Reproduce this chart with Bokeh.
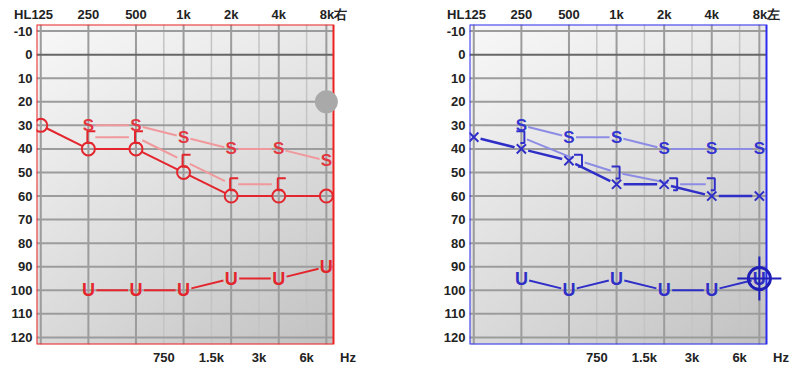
import numpy as np
from bokeh.plotting import figure
from bokeh.models import Range1d, FixedTicker, LinearAxis
from bokeh.layouts import row
from bokeh.embed import file_html
from bokeh.resources import INLINE
from bokeh.core.properties import value

# ---------------- data ----------------
oct_freqs = [125, 250, 500, 1000, 2000, 4000, 8000]
top_labels = ["125", "250", "500", "1k", "2k", "4k", "8k"]
half_freqs = [750, 1500, 3000, 6000]
half_labels = ["750", "1.5k", "3k", "6k"]
db_ticks = list(range(-10, 121, 10))
db_labels = [str(d) for d in db_ticks]
hl_text = "HL"
unit_text = "Hz"

# right ear (red)
r_air_f = [125, 250, 500, 1000, 2000, 4000, 8000]
r_air = [30, 40, 40, 50, 60, 60, 60]
r_bone_f = [250, 500, 1000, 2000, 4000]
r_bone = [35, 35, 45, 55, 55]
r_s_f = [250, 500, 1000, 2000, 4000, 8000]
r_s = [30, 30, 35, 40, 40, 45]
r_u_f = [250, 500, 1000, 2000, 4000, 8000]
r_u = [100, 100, 100, 95, 95, 90]
r_dot_f = [8000]
r_dot = [20]

# left ear (blue)
l_air_f = [125, 250, 500, 1000, 2000, 4000, 8000]
l_air = [35, 40, 45, 55, 55, 60, 60]
l_bone_f = [250, 500, 1000, 2000, 4000]
l_bone = [35, 45, 50, 55, 55]
l_s_f = [250, 500, 1000, 2000, 4000, 8000]
l_s = [30, 35, 35, 40, 40, 40]
l_u_f = [250, 500, 1000, 2000, 4000, 8000]
l_u = [95, 100, 95, 100, 100, 95]
l_mark_f = [8000]
l_mark = [95]

# ---------------- geometry ----------------
X0, X1 = -0.09, 6.15          # chart box (octaves above 125 Hz)
YT, YB = -12.8, 123.0         # chart box (dB HL, downward)
FW, FH = 297, 322             # chart box in px
PX = FW / (X1 - X0)
PY = FH / (YB - YT)
EXTRA = 22                    # white strip right of the box, so marks can overhang
X1E = X1 + EXTRA / PX
FONT = "Liberation Sans"
BL, BT, BB = 36, 24, 21
FIG_H = BT + FH + BB
NB = "\u00a0"


def octv(f):
    return np.log2(np.asarray(f, dtype=float) / 125.0)


def gapped(xs, ys, g0, g1):
    xs = np.asarray(xs, float)
    ys = np.asarray(ys, float)
    dx = (xs[1:] - xs[:-1]) * PX
    dy = (ys[1:] - ys[:-1]) * PY
    L = np.hypot(dx, dy)
    ux, uy = dx / L, dy / L
    return dict(x0=xs[:-1] + ux * g0 / PX, y0=ys[:-1] + uy * g0 / PY,
                x1=xs[1:] - ux * g1 / PX, y1=ys[1:] - uy * g1 / PY)


def bracket_paths(xs, ys, side):
    xx, yy = [], []
    for x, y in zip(xs, ys):
        px = [7, -1, -1, 4] if side == "L" else [-5, 3, 3, -1]
        py = [-6, -6, 6, 6]
        xx.append([x + a / PX for a in px])
        yy.append([y + b / PY for b in py])
    return xx, yy


def base_fig(width, border_right, color, side_text):
    p = figure(width=width, height=FIG_H, x_range=Range1d(X0, X1E),
               y_range=Range1d(YB, YT), toolbar_location=None,
               output_backend="svg", x_axis_location="above",
               min_border_left=BL, min_border_right=border_right,
               min_border_top=BT, min_border_bottom=BB)
    p.background_fill_color = "white"
    p.border_fill_color = "white"
    p.outline_line_color = None
    p.grid.visible = False

    # gradient background of the chart box
    n = 160
    u = np.linspace(0, 1, n)
    U, V = np.meshgrid(u, u)
    g = (248 - 30 * V - 14 * U - 10 * U * V).astype(np.uint32)
    img = (255 << 24) | (g << 16) | (g << 8) | g
    p.image_rgba(image=[img.astype(np.uint32)], x=X0, y=YT, dw=X1 - X0,
                 dh=YB - YT, level="image")

    # grid lines inside the box
    hx = octv(half_freqs)
    p.segment(x0=hx, x1=hx, y0=[YT] * len(hx), y1=[YB] * len(hx),
              line_color="#c4c4c4", line_width=1.5, level="underlay")
    ox = octv(oct_freqs)
    p.segment(x0=ox, x1=ox, y0=[YT] * len(ox), y1=[YB] * len(ox),
              line_color="#9c9c9c", line_width=2, level="underlay")
    dy = [d for d in db_ticks if d != 0]
    p.segment(x0=[X0] * len(dy), x1=[X1] * len(dy), y0=dy, y1=dy,
              line_color="#9c9c9c", line_width=2, level="underlay")
    p.segment(x0=[X0], x1=[X1], y0=[0], y1=[0],
              line_color="#666666", line_width=2, level="underlay")
    # chart box border
    p.quad(left=[X0], right=[X1], top=[YT], bottom=[YB], fill_alpha=0,
           line_color=color, line_width=2, level="underlay")

    # axes
    def style(ax):
        ax.axis_line_color = None
        ax.major_tick_line_color = None
        ax.minor_tick_line_color = None
        ax.major_tick_out = 0
        ax.major_tick_in = 0
        ax.minor_tick_out = 0
        ax.minor_tick_in = 0
        ax.axis_label_standoff = 0
        ax.major_label_text_font = FONT
        ax.major_label_text_font_style = "bold"
        ax.major_label_text_font_size = "13px"
        ax.major_label_text_color = "#222222"

    tl = list(top_labels)
    tl[0] = hl_text + tl[0] + NB * 4
    tl[-1] = NB * 4 + tl[-1] + side_text
    top = p.xaxis[0]
    top.ticker = FixedTicker(ticks=list(octv(oct_freqs)))
    top.major_label_overrides = {float(k): v for k, v in zip(octv(oct_freqs), tl)}
    top.major_label_standoff = 3
    style(top)

    bt = list(octv(half_freqs)) + [float(octv(oct_freqs[-1:])[0])]
    bl = list(half_labels) + [NB * 12 + unit_text]
    bot = LinearAxis(ticker=FixedTicker(ticks=bt))
    bot.major_label_overrides = {float(k): v for k, v in zip(bt, bl)}
    bot.major_label_standoff = 5
    style(bot)
    p.add_layout(bot, "below")

    ya = p.yaxis[0]
    ya.ticker = FixedTicker(ticks=db_ticks)
    ya.major_label_overrides = {d: s for d, s in zip(db_ticks, db_labels)}
    ya.major_label_standoff = 4
    style(ya)
    return p


def txt(p, xs, ys, s, color, size, bold=True):
    p.text(x=list(xs), y=list(ys), text=[s] * len(xs), text_color=color,
           text_font=value(FONT), text_font_size=size,
           text_font_style="bold" if bold else "normal",
           text_align="center", text_baseline="middle")


# ---------------- right ear (red) ----------------
RED = "#e3262d"
RED_L = "#f0989c"
p1 = base_fig(BL + FW + EXTRA + 78, 78, "#ee2020", "右")

x = octv(r_s_f)
p1.segment(line_color=RED_L, line_width=2, **gapped(x, r_s, 7, 7))
x = octv(r_bone_f)
p1.segment(line_color=RED_L, line_width=2, **gapped(x, r_bone, 7, 7))
bx, by = bracket_paths(x, r_bone, "L")
p1.multi_line(xs=bx, ys=by, line_color=RED, line_width=2)
x = octv(r_air_f)
p1.segment(line_color=RED, line_width=2, **gapped(x, r_air, 6.5, 6.5))
p1.scatter(x=x, y=r_air, marker="circle", size=13, line_color=RED,
           line_width=2, fill_alpha=0)
x = octv(r_u_f)
p1.segment(line_color=RED, line_width=2, **gapped(x, r_u, 8, 8))
txt(p1, x, r_u, "U", RED, "18px", bold=True)
x = octv(r_s_f)
txt(p1, x, r_s, "S", "#e23640", "17px", bold=True)
p1.scatter(x=octv(r_dot_f), y=r_dot, marker="circle", size=23,
           fill_color="#a9a9a9", line_color=None)

# ---------------- left ear (blue) ----------------
BLUE = "#2f2fc8"
BLUE_L = "#8c8ce4"
p2 = base_fig(BL + FW + EXTRA + 6, 6, "#2a2af0", "左")

x = octv(l_s_f)
p2.segment(line_color=BLUE_L, line_width=2, **gapped(x, l_s, 7, 7))
air_at_bone = np.interp(octv(l_bone_f), octv(l_air_f), l_air)
xb = octv(l_bone_f) + np.where(np.isclose(air_at_bone, l_bone), 10 / PX, 0.0)
p2.segment(line_color=BLUE_L, line_width=2, **gapped(xb, l_bone, 6, 6))
bx, by = bracket_paths(xb, l_bone, "R")
p2.multi_line(xs=bx, ys=by, line_color=BLUE, line_width=2)
x = octv(l_air_f)
p2.segment(line_color=BLUE, line_width=2.5, **gapped(x, l_air, 7, 7))
p2.scatter(x=x, y=l_air, marker="x", size=13, line_color=BLUE, line_width=2)
x = octv(l_u_f)
p2.segment(line_color=BLUE, line_width=2, **gapped(x, l_u, 8, 8))
txt(p2, x, l_u, "U", BLUE, "18px", bold=True)
x = octv(l_s_f)
txt(p2, x, l_s, "S", "#3434d0", "17px", bold=True)
xm = octv(l_mark_f)
p2.scatter(x=xm, y=l_mark, marker="circle", size=22, fill_alpha=0,
           line_color="#1f1fb8", line_width=3)
p2.scatter(x=xm, y=l_mark, marker="cross", size=44, line_color="#1f1fb8",
           line_width=2)

layout = row(p1, p2)
open("out.html", "w").write(file_html(layout, INLINE))
